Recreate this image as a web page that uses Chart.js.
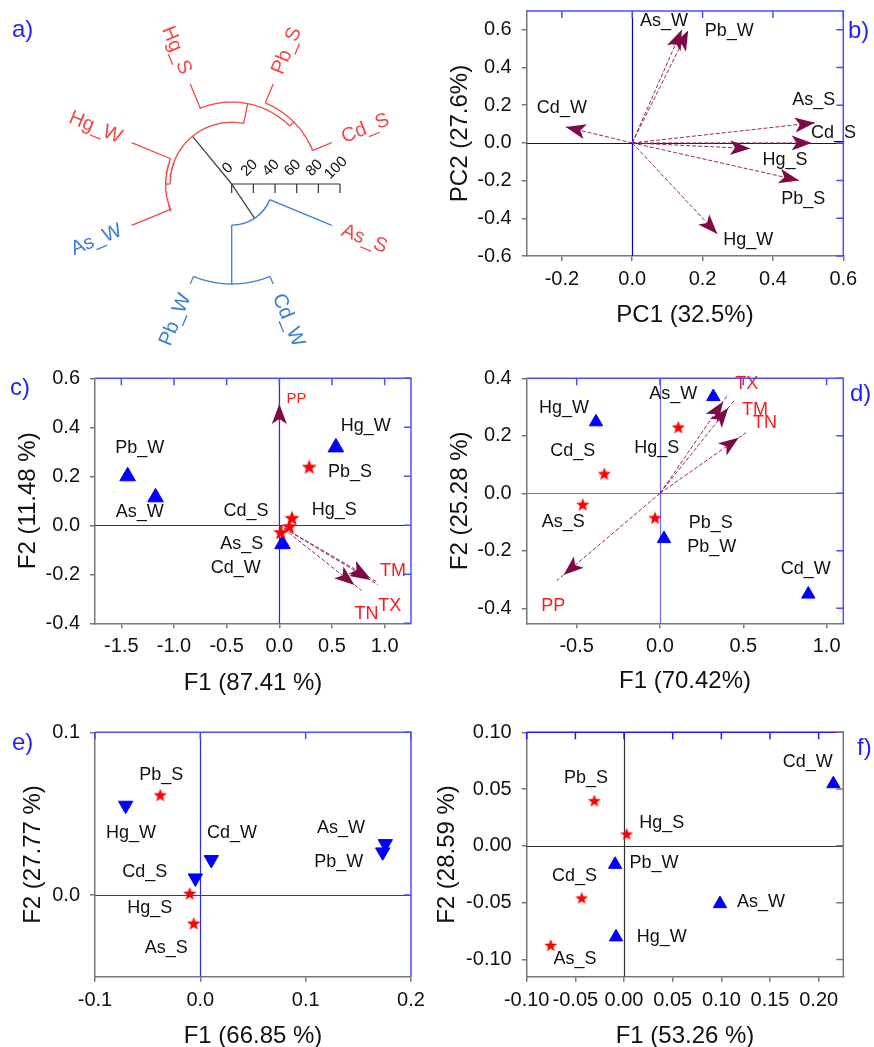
<!DOCTYPE html>
<html><head><meta charset="utf-8">
<script src="https://cdn.jsdelivr.net/npm/chart.js@4/dist/chart.umd.min.js"></script>
<style>
html,body{margin:0;padding:0;background:#fff}
body{width:874px;height:1047px;position:relative;overflow:hidden;font-family:'Liberation Sans',Arial,sans-serif}
canvas{position:absolute;display:block}
.tag{position:absolute;color:#1f1fff;font-size:24px;line-height:28px;font-family:'Liberation Sans',Arial,sans-serif}
</style></head>
<body>
<canvas id="cc" width="440" height="360" style="left:0;top:340px"></canvas>
<canvas id="ca" width="440" height="365" style="left:0;top:0"></canvas>
<canvas id="cb" width="434" height="340" style="left:440px;top:0"></canvas>
<canvas id="cd" width="434" height="360" style="left:440px;top:340px"></canvas>
<canvas id="ce" width="440" height="347" style="left:0;top:700px"></canvas>
<canvas id="cf" width="454" height="347" style="left:420px;top:700px"></canvas>
<div class="tag" style="left:12px;top:15px">a)</div>
<div class="tag" style="left:848px;top:16px">b)</div>
<div class="tag" style="left:10px;top:373px">c)</div>
<div class="tag" style="left:850px;top:379px">d)</div>
<div class="tag" style="left:12px;top:728px">e)</div>
<div class="tag" style="left:857px;top:733px">f)</div>
<script>
// ================= DATA =================
// a) circular dendrogram
const leafNames  = ['Cd_S','Pb_S','Hg_S','Hg_W','As_W','Pb_W','Cd_W','As_S'];
const leafAngles = [22.5, 67.5, 112.5, 157.5, 202.5, 247.5, 292.5, 337.5];
const leafLabelRed = [true,true,true,true,false,false,false,true];
// merges (hclust style: negative = leaf, positive = earlier merge)
const mergeA = [-2, -3, -4, 2, -6, 5, 4];
const mergeB = [-1,  1, -5, 3, -7, -8, 6];
const mergeHeight = [81, 75.7, 61, 57, 92.3, 37.9, 0];
const mergeCluster = ['r','r','r','r','b','b','root'];
const dendroScaleTicks = [0, 20, 40, 60, 80, 100];

// b) PCA loadings
const bNames = ['As_W','Pb_W','Cd_W','As_S','Cd_S','Hg_S','Pb_S','Hg_W'];
const bPC1 = [0.141, 0.159, -0.189, 0.519, 0.510, 0.335, 0.474, 0.242];
const bPC2 = [0.600, 0.597, 0.085, 0.107, 0.000, -0.030, -0.199, -0.483];
const bLabelX = [0.090, 0.276, -0.200, 0.516, 0.572, 0.434, 0.486, 0.330];
const bLabelY = [0.645, 0.595, 0.183, 0.227, 0.050, -0.092, -0.296, -0.515];
const bXTicks = [-0.2, 0, 0.2, 0.4, 0.6];
const bXTickLabels = ['-0.2','0.0','0.2','0.4','0.6'];
const bYTicks = [-0.6, -0.4, -0.2, 0, 0.2, 0.4, 0.6];
const bYTickLabels = ['-0.6','-0.4','-0.2','0.0','0.2','0.4','0.6'];

// c)
const cTriX = [-1.440, -1.175, 0.537, 0.030];
const cTriY = [0.200, 0.114, 0.318, -0.077];
const cStarX = [0.284, 0.120, 0.095, 0.013];
const cStarY = [0.236, 0.027, -0.007, -0.031];
const cVarNames = ['PP','TM','TX','TN'];
const cVarX = [0.000, 0.930, 0.935, 0.780];
const cVarY = [0.532, -0.232, -0.242, -0.266];
const cLabels = ['PP','Hg_W','Pb_W','Pb_S','As_W','Cd_S','Hg_S','As_S','Cd_W','TM','TX','TN'];
const cLabelX = [0.164, 0.820, -1.326, 0.670, -1.326, -0.316, 0.521, -0.357, -0.414, 1.080, 1.048, 0.827];
const cLabelY = [0.518, 0.405, 0.314, 0.218, 0.055, 0.059, 0.064, -0.075, -0.175, -0.188, -0.330, -0.361];
const cXTicks = [-1.5, -1.0, -0.5, 0, 0.5, 1.0];
const cXTickLabels = ['-1.5','-1.0','-0.5','0.0','0.5','1.0'];
const cYTicks = [-0.4, -0.2, 0, 0.2, 0.4, 0.6];
const cYTickLabels = ['-0.4','-0.2','0.0','0.2','0.4','0.6'];

// d)
const dTriX = [0.320, -0.384, 0.024, 0.890];
const dTriY = [0.336, 0.248, -0.158, -0.351];
const dStarX = [0.110, -0.334, -0.464, -0.030];
const dStarY = [0.228, 0.066, -0.041, -0.087];
const dVarNames = ['TX','TM','TN','PP'];
const dVarX = [0.410, 0.444, 0.516, -0.620];
const dVarY = [0.345, 0.322, 0.211, -0.304];
const dLabels = ['TX','TM','TN','PP','As_W','Hg_W','Cd_S','Hg_S','As_S','Pb_S','Pb_W','Cd_W'];
const dLabelX = [0.520, 0.570, 0.630, -0.640, 0.080, -0.576, -0.524, -0.020, -0.580, 0.304, 0.310, 0.874];
const dLabelY = [0.379, 0.290, 0.246, -0.392, 0.346, 0.296, 0.147, 0.159, -0.099, -0.102, -0.186, -0.263];
const dXTicks = [-0.5, 0, 0.5, 1.0];
const dXTickLabels = ['-0.5','0.0','0.5','1.0'];
const dYTicks = [-0.4, -0.2, 0, 0.2, 0.4];
const dYTickLabels = ['-0.4','-0.2','0.0','0.2','0.4'];

// e)
const eTriX = [-0.0709, 0.0104, -0.0047, 0.1756, 0.1731];
const eTriY = [0.0551, 0.0217, 0.0104, 0.0315, 0.0264];
const eStarX = [-0.0380, -0.0101, -0.0063];
const eStarY = [0.0611, 0.0006, -0.0178];
const eLabels = ['Pb_S','Hg_W','Cd_W','Cd_S','Hg_S','As_S','As_W','Pb_W'];
const eLabelX = [-0.0370, -0.0658, 0.0300, -0.0528, -0.0480, -0.0323, 0.1335, 0.1313];
const eLabelY = [0.0738, 0.0383, 0.0383, 0.0143, -0.0082, -0.0328, 0.0410, 0.0205];
const eXTicks = [-0.1, 0, 0.1, 0.2];
const eXTickLabels = ['-0.1','0.0','0.1','0.2'];
const eYTicks = [0, 0.1];
const eYTickLabels = ['0.0','0.1'];

// f)
const fTriX = [0.2151, -0.0092, 0.0986, -0.0082];
const fTriY = [0.0546, -0.0164, -0.0510, -0.0803];
const fStarX = [-0.0305, 0.0027, -0.0435, -0.0753];
const fStarY = [0.0393, 0.0100, -0.0463, -0.0880];
const fLabels = ['Cd_W','Pb_S','Hg_S','Pb_W','Cd_S','As_W','Hg_W','As_S'];
const fLabelX = [0.1887, -0.0390, 0.0387, 0.0308, -0.0510, 0.1408, 0.0387, -0.0503];
const fLabelY = [0.0739, 0.0598, 0.0205, -0.0147, -0.0264, -0.0493, -0.0806, -0.0997];
const fXTicks = [-0.1, -0.05, 0, 0.05, 0.1, 0.15, 0.2];
const fXTickLabels = ['-0.10','-0.05','0.00','0.05','0.10','0.15','0.20'];
const fYTicks = [-0.1, -0.05, 0, 0.05, 0.1];
const fYTickLabels = ['-0.10','-0.05','0.00','0.05','0.10'];

// ================= STYLE / RENDER =================
const FONT = "'Liberation Sans', Arial, sans-serif";
Chart.defaults.font.family = FONT;
Chart.defaults.color = '#111';
const RED = '#f24848', BLUE_D = '#3b7ed6';
const ENV = ['PP','TM','TX','TN'];

// ---------- panel a ----------
(function(){
  const LEAF_R = 100, LABEL_R = 110.5;
  const rad = d => d*Math.PI/180;
  const P = (r,deg) => ({x: r*Math.cos(rad(deg)), y: r*Math.sin(rad(deg))});
  const mAngle = [];
  const nodeAngle = id => id < 0 ? leafAngles[-id-1] : mAngle[id-1];
  const nodeR = id => id < 0 ? LEAF_R : mergeHeight[id-1];
  mergeA.forEach((a,i) => { mAngle[i] = (nodeAngle(a) + nodeAngle(mergeB[i]))/2; });
  const colOf = c => c === 'r' ? RED : (c === 'b' ? BLUE_D : '#444');
  const segs = [];
  mergeA.forEach((a,i) => {
    const b = mergeB[i], h = mergeHeight[i], col = colOf(mergeCluster[i]);
    const a1 = nodeAngle(a), a2 = nodeAngle(b);
    if (h > 0) {
      const lo = Math.min(a1,a2), hi = Math.max(a1,a2), pts = [];
      for (let t = lo; t < hi; t += 1) pts.push(P(h,t));
      pts.push(P(h,hi));
      segs.push({pts, col});
    }
    [a,b].forEach(c => segs.push({pts:[P(h,nodeAngle(c)), P(nodeR(c),nodeAngle(c))], col}));
  });
  const labelPlugin = {
    id:'dendroLabels',
    afterDraw(chart){
      const ctx = chart.ctx, xs = chart.scales.x, ys = chart.scales.y;
      const px = p => [xs.getPixelForValue(p.x), ys.getPixelForValue(p.y)];
      ctx.save();
      ctx.font = `20px ${FONT}`;
      ctx.textBaseline = 'middle';
      leafNames.forEach((n,i) => {
        const ang = leafAngles[i];
        const [x,y] = px(P(LABEL_R, ang));
        ctx.save();
        ctx.translate(x,y);
        ctx.fillStyle = leafLabelRed[i] ? RED : BLUE_D;
        if (ang > 90 && ang < 270) { ctx.rotate(rad(180-ang)); ctx.textAlign = 'right'; }
        else { ctx.rotate(rad(-ang)); ctx.textAlign = 'left'; }
        ctx.fillText(n, 0, 0);
        ctx.restore();
      });
      // scale bar
      const [x0,y0] = px(P(0,0));
      const [x1] = px(P(dendroScaleTicks[dendroScaleTicks.length-1],0));
      ctx.strokeStyle = '#333'; ctx.lineWidth = 1.2;
      ctx.beginPath(); ctx.moveTo(x0,y0); ctx.lineTo(x1,y0); ctx.stroke();
      ctx.font = `15px ${FONT}`; ctx.fillStyle = '#111';
      ctx.textAlign = 'center';
      dendroScaleTicks.forEach(t => {
        const [tx] = px(P(t,0));
        ctx.beginPath(); ctx.moveTo(tx,y0); ctx.lineTo(tx,y0+9); ctx.stroke();
        ctx.save(); ctx.translate(tx-4, y0-16); ctx.rotate(-Math.PI/4);
        ctx.fillText(String(t), 0, 0); ctx.restore();
      });
      ctx.restore();
    }
  };
  new Chart(document.getElementById('ca'), {
    type:'scatter',
    data:{datasets: segs.map(s => ({data:s.pts, showLine:true, borderColor:s.col, borderWidth:1.3, pointRadius:0, tension:0, fill:false}))},
    options:{responsive:false, animation:false, events:[], layout:{padding:0},
      scales:{x:{type:'linear', display:false, min:-213.9, max:192.3}, y:{type:'linear', display:false, min:-167.1, max:169.9}},
      plugins:{legend:{display:false}, tooltip:{enabled:false}}},
    plugins:[labelPlugin]
  });
})();

// ---------- star image ----------
function makeStar(R, color){
  const s = Math.ceil(R*2+2), c = document.createElement('canvas');
  c.width = s; c.height = s;
  const g = c.getContext('2d');
  g.fillStyle = color; g.beginPath();
  for (let k=0;k<10;k++){
    const r = k%2===0 ? R : R*0.42;
    const a = -Math.PI/2 + k*Math.PI/5;
    const x = s/2 + r*Math.cos(a), y = s/2 + r*Math.sin(a);
    k===0 ? g.moveTo(x,y) : g.lineTo(x,y);
  }
  g.closePath(); g.fill();
  return c;
}

// ---------- generic PCA panel ----------
function panel(id, o){
  const cv = document.getElementById(id);
  const W = cv.width, H = cv.height, A = o.area;
  const datasets = [];
  (o.markers||[]).forEach(m => datasets.push({
    data: m.x.map((v,i)=>({x:v, y:m.y[i]})), showLine:false,
    pointStyle: m.style, pointRadius: m.r, pointRotation: m.rot||0,
    backgroundColor: m.color, borderColor: m.color, borderWidth: 1
  }));
  const arrows = o.arrows;
  if (arrows) arrows.x.forEach((v,i) => datasets.push({
    data:[{x:0,y:0},{x:v,y:arrows.y[i]}], showLine:true, borderColor:'#952660',
    borderWidth:1, borderDash:[4,2], pointRadius:0, tension:0
  }));
  const plug = {
    id:'pcaDecor',
    beforeDatasetsDraw(chart){
      const {ctx, chartArea:ca, scales:{x, y}} = chart;
      ctx.save(); ctx.strokeStyle = o.zeroColor; ctx.lineWidth = 1.2;
      const zx = Math.round(x.getPixelForValue(0))+0.5, zy = Math.round(y.getPixelForValue(0))+0.5;
      ctx.beginPath(); ctx.moveTo(zx, ca.top); ctx.lineTo(zx, ca.bottom);
      ctx.moveTo(ca.left, zy); ctx.lineTo(ca.right, zy); ctx.stroke();
      ctx.restore();
    },
    afterDatasetsDraw(chart){
      const {ctx, scales:{x, y}} = chart;
      ctx.save();
      if (arrows) {
        const ox = x.getPixelForValue(0), oy = y.getPixelForValue(0);
        ctx.fillStyle = '#7d0a47';
        arrows.x.forEach((v,i) => {
          const ex = x.getPixelForValue(v), ey = y.getPixelForValue(arrows.y[i]);
          const dx = ex-ox, dy = ey-oy, len = Math.hypot(dx,dy), ux = dx/len, uy = dy/len;
          const tx = ex - ux*o.tipBack, ty = ey - uy*o.tipBack;
          const L = 20, Wd = 7.5, N = 5;
          ctx.beginPath();
          ctx.moveTo(tx, ty);
          ctx.lineTo(tx - ux*L - uy*Wd, ty - uy*L + ux*Wd);
          ctx.lineTo(tx - ux*(L-N), ty - uy*(L-N));
          ctx.lineTo(tx - ux*L + uy*Wd, ty - uy*L - ux*Wd);
          ctx.closePath(); ctx.fill();
        });
      }
      ctx.textAlign = 'center'; ctx.textBaseline = 'middle';
      o.labels.t.forEach((t,i) => {
        const env = ENV.includes(t);
        const small = (o.smallLabels||[]).includes(t);
        ctx.fillStyle = env ? '#ff1a1a' : '#111';
        ctx.font = `${small ? 15 : 18}px ${FONT}`;
        ctx.fillText(t, x.getPixelForValue(o.labels.x[i]), y.getPixelForValue(o.labels.y[i]));
      });
      ctx.restore();
    },
    afterDraw(chart){
      const {ctx, chartArea:ca, scales:{x, y}} = chart;
      ctx.save(); ctx.lineWidth = 1.5;
      ctx.strokeStyle = o.topColor;
      ctx.beginPath(); ctx.moveTo(ca.left, ca.top); ctx.lineTo(ca.right+0.75, ca.top); ctx.stroke();
      ctx.beginPath();
      o.x.ticks.forEach(v => { const p = x.getPixelForValue(v); ctx.moveTo(p, ca.top); ctx.lineTo(p, ca.top+7); });
      ctx.stroke();
      ctx.strokeStyle = o.rightColor;
      ctx.beginPath(); ctx.moveTo(ca.right, ca.top); ctx.lineTo(ca.right, ca.bottom); ctx.stroke();
      ctx.beginPath();
      o.y.ticks.forEach(v => { const p = y.getPixelForValue(v); ctx.moveTo(ca.right, p); ctx.lineTo(ca.right-7, p); });
      ctx.stroke();
      ctx.restore();
    }
  };
  const axisCommon = {
    type:'linear',
    grid:{drawOnChartArea:false, drawTicks:true, tickLength:5, color:'#777', lineWidth:1.5},
    border:{display:true, color:'#777', width:1.5}
  };
  new Chart(cv, {
    type:'scatter',
    data:{datasets},
    options:{
      responsive:false, animation:false, events:[],
      layout:{padding:{left:0, top:A.t, right:W-A.r, bottom:0}},
      plugins:{legend:{display:false}, tooltip:{enabled:false}},
      scales:{
        x: Object.assign({}, axisCommon, {
          position:'bottom', min:o.x.min, max:o.x.max,
          afterBuildTicks: s => { s.ticks = o.x.ticks.map(v=>({value:v})); },
          afterFit: s => { s.height = H - A.b; s.paddingLeft = 0; s.paddingRight = 0; },
          ticks:{font:{size:20}, color:'#111', padding:6.5, maxRotation:0, minRotation:0, autoSkip:false,
                 callback:(v,i)=>o.x.labels[i]},
          title:{display:true, text:o.x.title, font:{size:24}, color:'#111', padding:{top:0, bottom:o.x.tpad}}
        }),
        y: Object.assign({}, axisCommon, {
          position:'left', min:o.y.min, max:o.y.max,
          afterBuildTicks: s => { s.ticks = o.y.ticks.map(v=>({value:v})); },
          afterFit: s => { s.width = A.l; s.paddingTop = 0; s.paddingBottom = 0; },
          ticks:{font:{size:20}, color:'#111', padding:10, autoSkip:false,
                 callback:(v,i)=>o.y.labels[i]},
          title:{display:true, text:o.y.title, font:{size:24}, color:'#111', padding:{top:o.y.tpad, bottom:0}}
        })
      }
    },
    plugins:[plug]
  });
}

const BLUE_AX = '#4d4dff';

panel('cb', {
  area:{l:86.7, r:403.3, t:11, b:256},
  x:{min:-0.3, max:0.6, ticks:bXTicks, labels:bXTickLabels, title:'PC1 (32.5%)', tpad:10.6},
  y:{min:-0.6, max:0.7, ticks:bYTicks, labels:bYTickLabels, title:'PC2 (27.6%)', tpad:5.6},
  arrows:{x:bPC1, y:bPC2}, tipBack:0,
  labels:{t:bNames, x:bLabelX, y:bLabelY},
  zeroColor:'#0000e6', topColor:BLUE_AX, rightColor:BLUE_AX
});

panel('cc', {
  area:{l:95, r:411, t:38.3, b:283.3},
  x:{min:-1.75, max:1.25, ticks:cXTicks, labels:cXTickLabels, title:'F1 (87.41 %)', tpad:2.3},
  y:{min:-0.4, max:0.6, ticks:cYTicks, labels:cYTickLabels, title:'F2 (11.48 %)', tpad:13.9},
  markers:[
    {x:cStarX, y:cStarY, style:makeStar(8,'#ff0000'), r:8, color:'#ff0000'},
    {x:cTriX, y:cTriY, style:'triangle', r:9, color:'#0000ff'}
  ],
  arrows:{x:cVarX, y:cVarY}, tipBack:9,
  labels:{t:cLabels, x:cLabelX, y:cLabelY}, smallLabels:['PP'],
  zeroColor:'#2222ff', topColor:BLUE_AX, rightColor:BLUE_AX
});

panel('cd', {
  area:{l:86.7, r:403.3, t:38.3, b:283.3},
  x:{min:-0.8, max:1.1, ticks:dXTicks, labels:dXTickLabels, title:'F1 (70.42%)', tpad:3.9},
  y:{min:-0.452, max:0.4, ticks:dYTicks, labels:dYTickLabels, title:'F2 (25.28 %)', tpad:5.6},
  markers:[
    {x:dStarX, y:dStarY, style:makeStar(7,'#ff0000'), r:7, color:'#ff0000'},
    {x:dTriX, y:dTriY, style:'triangle', r:7.7, color:'#0000ff'}
  ],
  arrows:{x:dVarX, y:dVarY}, tipBack:9,
  labels:{t:dLabels, x:dLabelX, y:dLabelY},
  zeroColor:'#6a6aff', topColor:BLUE_AX, rightColor:BLUE_AX
});

panel('ce', {
  area:{l:95, r:411, t:32.3, b:276.7},
  x:{min:-0.1, max:0.2, ticks:eXTicks, labels:eXTickLabels, title:'F1 (66.85 %)', tpad:-4.1},
  y:{min:-0.0502, max:0.1, ticks:eYTicks, labels:eYTickLabels, title:'F2 (27.77 %)', tpad:18.9},
  markers:[
    {x:eStarX, y:eStarY, style:makeStar(7,'#ff0000'), r:7, color:'#ff0000'},
    {x:eTriX, y:eTriY, style:'triangle', r:8.3, rot:180, color:'#0000ff'}
  ],
  labels:{t:eLabels, x:eLabelX, y:eLabelY},
  zeroColor:'#2a2aff', topColor:BLUE_AX, rightColor:BLUE_AX
});

panel('cf', {
  area:{l:106.7, r:423.3, t:32.3, b:276.7},
  x:{min:-0.1, max:0.2253, ticks:fXTicks, labels:fXTickLabels, title:'F1 (53.26 %)', tpad:-4.1},
  y:{min:-0.1152, max:0.1, ticks:fYTicks, labels:fYTickLabels, title:'F2 (28.59 %)', tpad:12.6},
  markers:[
    {x:fStarX, y:fStarY, style:makeStar(6.8,'#ff0000'), r:7, color:'#ff0000'},
    {x:fTriX, y:fTriY, style:'triangle', r:7.7, color:'#0000ff'}
  ],
  labels:{t:fLabels, x:fLabelX, y:fLabelY},
  zeroColor:'#333333', topColor:'#1a1aff', rightColor:'#777777'
});
</script>
</body></html>
